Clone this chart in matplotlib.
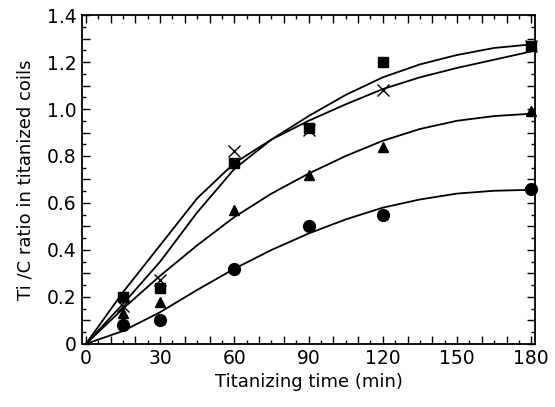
import matplotlib
matplotlib.use("Agg")
import matplotlib.pyplot as plt
from matplotlib.ticker import MultipleLocator, FuncFormatter

plt.rcParams['font.family'] = ['DejaVu Sans']

# measured points
t_pts = [15, 30, 60, 90, 120, 180]
square_vals = [0.20, 0.24, 0.77, 0.92, 1.20, 1.27]
cross_vals = [0.16, 0.27, 0.82, 0.91, 1.08, 1.27]
triangle_vals = [0.13, 0.18, 0.57, 0.72, 0.84, 0.99]
circle_vals = [0.08, 0.10, 0.32, 0.50, 0.55, 0.66]

# fitted curves
t_curve = [0, 15, 30, 45, 60, 75, 90, 105, 120, 135, 150, 165, 180]
curve_a = [0, 0.22, 0.42, 0.62, 0.77, 0.87, 0.95, 1.02, 1.085, 1.135, 1.175, 1.21, 1.245]
curve_b = [0, 0.17, 0.35, 0.56, 0.745, 0.87, 0.97, 1.06, 1.135, 1.19, 1.23, 1.26, 1.275]
curve_tri = [0, 0.15, 0.29, 0.42, 0.54, 0.64, 0.725, 0.80, 0.865, 0.915, 0.95, 0.97, 0.98]
curve_circ = [0, 0.055, 0.135, 0.23, 0.32, 0.40, 0.47, 0.53, 0.58, 0.615, 0.64, 0.652, 0.656]

fig = plt.figure(figsize=(5.55, 4.07), dpi=100)
ax = fig.add_axes([0.148, 0.155, 0.816, 0.808])

for c in (curve_a, curve_b, curve_tri, curve_circ):
    ax.plot(t_curve, c, color='black', lw=1.3, solid_capstyle='round', solid_joinstyle='round')

ax.plot(t_pts, square_vals, 's', color='black', ms=7.5, clip_on=False)
ax.plot(t_pts, cross_vals, 'x', color='black', ms=8, mew=1.0, clip_on=False)
ax.plot(t_pts, triangle_vals, '^', color='black', ms=7.5, clip_on=False)
ax.plot(t_pts, circle_vals, 'o', color='black', ms=8.5, clip_on=False)

ax.set_xlim(-1.5, 181.5)
ax.set_ylim(0, 1.4)

ax.xaxis.set_major_locator(MultipleLocator(10))
ax.xaxis.set_minor_locator(MultipleLocator(5))
ax.xaxis.set_major_formatter(FuncFormatter(lambda v, p: f"{int(round(v))}" if int(round(v)) % 30 == 0 else ""))
ax.yaxis.set_major_locator(MultipleLocator(0.1))
ax.yaxis.set_minor_locator(MultipleLocator(0.05))
def yfmt(v, p):
    k = int(round(v * 10))
    if k % 2:
        return ""
    return "0" if k == 0 else f"{v:.1f}"
ax.yaxis.set_major_formatter(FuncFormatter(yfmt))

ax.tick_params(which='both', direction='in', top=True, right=True, width=1.0, labelsize=13.5)
ax.tick_params(which='major', length=6, pad=4)
ax.tick_params(which='minor', length=3)
for s in ax.spines.values():
    s.set_linewidth(1.3)

ax.set_xlabel("Titanizing time (min)", fontsize=13, labelpad=3)
ax.set_ylabel("Ti /C ratio in titanized coils", fontsize=13, labelpad=9)

fig.savefig("out.png", dpi=100)
